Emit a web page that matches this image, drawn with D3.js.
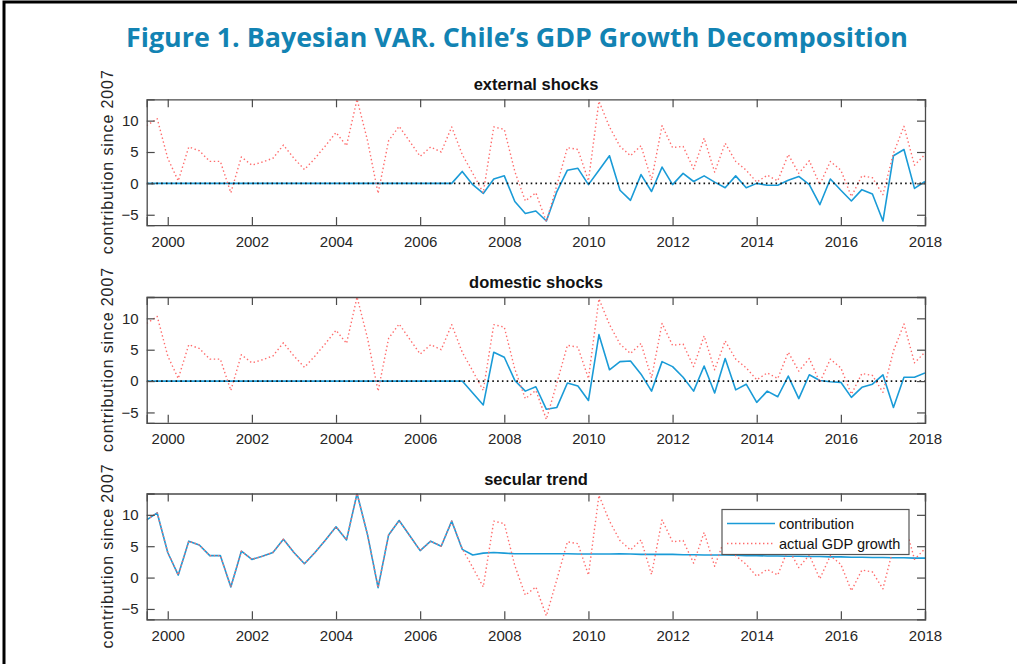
<!DOCTYPE html>
<html>
<head>
<meta charset="utf-8">
<script src="https://cdn.jsdelivr.net/npm/d3@7"></script>
<style>
  html, body { margin: 0; padding: 0; background: #fff; }
  svg { display: block; }
</style>
</head>
<body>
<div id="chart"></div>
<script>
// Quarterly sample: 1999Q3 .. 2018Q1
const startYear = 1999.5;
const nQuarters = 75;

// Actual GDP growth (percent, y/y)
const gdpGrowth = [
  9.2, 10.3,
  4.0, 0.4, 5.8, 5.2,
  3.5, 3.5, -1.5, 4.2,
  2.9, 3.4, 4.0, 6.1,
  4.0, 2.2, 4.0, 6.0,
  8.1, 6.0, 13.4, 6.8,
  -1.6, 6.8, 9.1, 6.7,
  4.3, 5.8, 5.0, 9.0,
  4.6, 1.6, -1.5, 9.0,
  8.6, 1.9, -2.8, -1.5,
  -6.1, -0.3, 5.7, 5.4,
  0.4, 13.1, 9.0, 5.9,
  4.4, 6.0, 0.5, 9.2,
  5.7, 5.9, 2.3, 7.2,
  1.8, 6.4, 3.5, 2.1,
  0.2, 1.3, 0.4, 4.6,
  1.6, 3.6, -0.2, 3.5,
  2.1, -2.1, 1.2, 0.9,
  -1.8, 4.8, 9.1, 2.9,
  4.6
];

// Contribution of external shocks
const externalShocks = [
  0, 0,
  0, 0, 0, 0,
  0, 0, 0, 0,
  0, 0, 0, 0,
  0, 0, 0, 0,
  0, 0, 0, 0,
  0, 0, 0, 0,
  0, 0, 0, 0,
  1.9, -0.2, -1.6, 0.7,
  1.2, -2.9, -4.8, -4.4,
  -6.0, -1.3, 2.1, 2.4,
  -0.2, 2.1, 4.4, -1.1,
  -2.7, 1.4, -1.3, 2.6,
  -0.2, 1.6, 0.3, 1.2,
  0.2, -0.7, 1.2, -0.7,
  0.0, -0.3, -0.3, 0.5,
  1.1, -0.2, -3.4, 0.7,
  -1.1, -2.8, -1.0, -1.7,
  -6.0, 4.4, 5.4, -0.8,
  0.3
];

// Contribution of domestic shocks
const domesticShocks = [
  0, 0,
  0, 0, 0, 0,
  0, 0, 0, 0,
  0, 0, 0, 0,
  0, 0, 0, 0,
  0, 0, 0, 0,
  0, 0, 0, 0,
  0, 0, 0, 0,
  0.0, -1.9, -3.8, 4.6,
  3.8, 0.1, -1.6, -0.9,
  -4.5, -4.2, -0.3, -0.8,
  -3.1, 7.4, 1.8, 3.1,
  3.2, 1.1, -1.6, 3.1,
  2.3, 0.6, -1.6, 2.4,
  -1.9, 3.6, -1.4, -0.5,
  -3.4, -1.6, -2.5, 0.8,
  -2.8, 1.0, 0.1, -0.1,
  -0.2, -2.6, -1.0, -0.5,
  1.0, -4.2, 0.6, 0.6,
  1.3
];

// Secular trend component
const secularTrend = [
  9.2, 10.3,
  4.0, 0.4, 5.8, 5.2,
  3.5, 3.5, -1.5, 4.2,
  2.9, 3.4, 4.0, 6.1,
  4.0, 2.2, 4.0, 6.0,
  8.1, 6.0, 13.4, 6.8,
  -1.6, 6.8, 9.1, 6.7,
  4.3, 5.8, 5.0, 9.0,
  4.5, 3.6, 3.9, 4.0,
  3.9, 3.8, 3.8, 3.8,
  3.8, 3.8, 3.8, 3.75,
  3.75, 3.75, 3.75, 3.8,
  3.75, 3.7, 3.7, 3.7,
  3.7, 3.65, 3.65, 3.6,
  3.6, 3.6, 3.55, 3.5,
  3.5, 3.45, 3.45, 3.4,
  3.4, 3.35, 3.35, 3.3,
  3.3, 3.25, 3.25, 3.2,
  3.2, 3.15, 3.15, 3.1,
  3.1
];

const panelTitles = ["external shocks", "domestic shocks", "secular trend"];
const xTickYears = [2000, 2002, 2004, 2006, 2008, 2010, 2012, 2014, 2016, 2018];
const yTickValues = [-5, 0, 5, 10];
const legendLabels = ["contribution", "actual GDP growth"];
const titleText = "Figure 1. Bayesian VAR. Chile\u2019s GDP Growth Decomposition";
const yAxisLabel = "contribution since 2007";

const quarters = d3.range(nQuarters).map(i => startYear + i * 0.25);

const W = 1017, H = 664;
const svg = d3.select("#chart").append("svg")
  .attr("width", W).attr("height", H)
  .style("font-family", "'Liberation Sans', Arial, sans-serif");

// outer frame of the figure box (top and left edges)
svg.append("path")
  .attr("d", `M4,${H + 5} L4,2 L${W + 5},2`)
  .attr("fill", "none").attr("stroke", "#000").attr("stroke-width", 3);

// figure heading
svg.append("text")
  .attr("x", 517).attr("y", 47)
  .attr("text-anchor", "middle")
  .attr("font-family", "'Open Sans', 'Noto Sans', sans-serif")
  .attr("font-weight", "bold")
  .attr("font-size", 27)
  .attr("fill", "#1283b3")
  .attr("textLength", 782)
  .attr("lengthAdjust", "spacingAndGlyphs")
  .text(titleText);

const x = d3.scaleLinear().domain([startYear, 2018]).range([146.7, 925]);
const yDomain = [-6.65, 13.4];

const panelTops = [99.3, 297, 493.5];
const panelH = 125.8;

const axisColor = "#4a4a4a";
const textColor = "#262626";
const blue = "#1a9bd7";
const red = "#ff6b6b";
const tickLen = 8;

const panels = [
  { title: panelTitles[0], contrib: externalShocks, zeroLine: true },
  { title: panelTitles[1], contrib: domesticShocks, zeroLine: true },
  { title: panelTitles[2], contrib: secularTrend, zeroLine: false, legend: true }
];

panels.forEach((p, i) => {
  const top = panelTops[i];
  const bottom = top + panelH;
  const y = d3.scaleLinear().domain(yDomain).range([bottom, top]);
  const g = svg.append("g");

  const clipId = "clip" + i;
  svg.append("clipPath").attr("id", clipId)
    .append("rect").attr("x", x.range()[0]).attr("y", top)
    .attr("width", x.range()[1] - x.range()[0]).attr("height", panelH);

  const line = d3.line().x((d, k) => x(quarters[k])).y(d => y(d));

  const plot = g.append("g").attr("clip-path", `url(#${clipId})`);

  // contribution line
  plot.append("path")
    .datum(p.contrib)
    .attr("d", line)
    .attr("fill", "none")
    .attr("stroke", blue)
    .attr("stroke-width", 1.6)
    .attr("stroke-linejoin", "round");

  // actual GDP growth, dotted
  plot.append("path")
    .datum(gdpGrowth)
    .attr("d", line)
    .attr("fill", "none")
    .attr("stroke", red)
    .attr("stroke-width", 1.4)
    .attr("stroke-dasharray", "1.4,2.6")
    .attr("stroke-linejoin", "round");

  if (p.zeroLine) {
    plot.append("line")
      .attr("x1", x.range()[0]).attr("x2", x.range()[1])
      .attr("y1", y(0)).attr("y2", y(0))
      .attr("stroke", "#111")
      .attr("stroke-width", 1.6)
      .attr("stroke-dasharray", "1.6,3.2");
  }

  // axes: ticks pointing inward on all four sides
  const axB = d3.axisBottom(x).tickValues(xTickYears).tickSize(-tickLen).tickPadding(11).tickFormat(d3.format("d"));
  const axT = d3.axisTop(x).tickValues(xTickYears).tickSize(-tickLen).tickFormat("");
  const axL = d3.axisLeft(y).tickValues(yTickValues).tickSize(-tickLen).tickPadding(8);
  const axR = d3.axisRight(y).tickValues(yTickValues).tickSize(-tickLen).tickFormat("");

  const gb = g.append("g").attr("transform", `translate(0,${bottom})`).call(axB);
  const gt = g.append("g").attr("transform", `translate(0,${top})`).call(axT);
  const gl = g.append("g").attr("transform", `translate(${x.range()[0]},0)`).call(axL);
  const gr = g.append("g").attr("transform", `translate(${x.range()[1]},0)`).call(axR);

  [gb, gt, gl, gr].forEach(a => {
    a.select(".domain").attr("stroke", axisColor).attr("stroke-width", 1.3);
    a.selectAll(".tick line").attr("stroke", axisColor).attr("stroke-width", 1.2);
    a.selectAll(".tick text")
      .attr("fill", textColor)
      .attr("font-size", 15)
      .attr("font-family", "'Liberation Sans', Arial, sans-serif");
  });

  // panel title
  g.append("text")
    .attr("x", 536).attr("y", top - 9)
    .attr("text-anchor", "middle")
    .attr("font-weight", "bold")
    .attr("font-size", 16.5)
    .attr("fill", "#111")
    .text(p.title);

  // y-axis label
  g.append("text")
    .attr("transform", `translate(113,${(top + bottom) / 2}) rotate(-90)`)
    .attr("text-anchor", "middle")
    .attr("font-size", 16)
    .attr("fill", textColor)
    .attr("textLength", 184)
    .attr("lengthAdjust", "spacing")
    .text(yAxisLabel);

  if (p.legend) {
    const lg = g.append("g");
    lg.append("rect")
      .attr("x", 722).attr("y", 509.5).attr("width", 187).attr("height", 45)
      .attr("fill", "#fff").attr("stroke", "#555").attr("stroke-width", 1.2);
    const rows = [
      { label: legendLabels[0], color: blue, dash: null, w: 1.6 },
      { label: legendLabels[1], color: red, dash: "1.4,2.6", w: 1.4 }
    ];
    rows.forEach((r, k) => {
      const yy = 523.5 + k * 20;
      lg.append("line")
        .attr("x1", 727).attr("x2", 775).attr("y1", yy).attr("y2", yy)
        .attr("stroke", r.color).attr("stroke-width", r.w)
        .attr("stroke-dasharray", r.dash);
      lg.append("text")
        .attr("x", 779).attr("y", yy + 5)
        .attr("font-size", 14.5)
        .attr("fill", "#111")
        .text(r.label);
    });
  }
});
</script>
</body>
</html>
